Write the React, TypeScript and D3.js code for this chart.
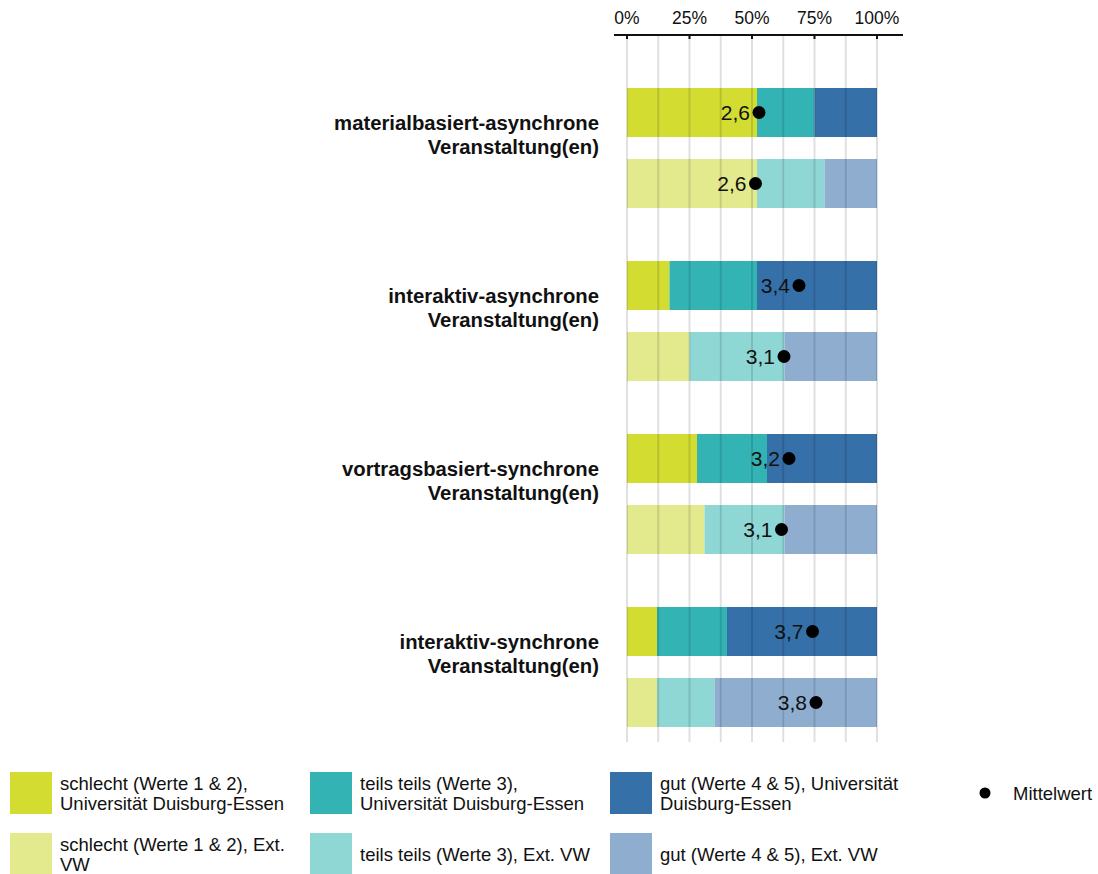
import { useEffect, useRef } from 'react'
import * as d3 from 'd3'

// category labels (two lines each)
const categories = [
  ['materialbasiert-asynchrone', 'Veranstaltung(en)'],
  ['interaktiv-asynchrone', 'Veranstaltung(en)'],
  ['vortragsbasiert-synchrone', 'Veranstaltung(en)'],
  ['interaktiv-synchrone', 'Veranstaltung(en)'],
]

// shares in percent: schlecht / teils teils / gut
const udeSchlecht = [52, 17, 28, 12]
const udeTeils = [23, 35, 28, 28]
const udeGut = [25, 48, 44, 60]

const extSchlecht = [52, 25, 31, 12]
const extTeils = [27, 38, 32, 23]
const extGut = [21, 37, 37, 65]

// means on a 1..5 scale
const udeMean = [2.64, 3.44, 3.24, 3.71]
const extMean = [2.57, 3.14, 3.09, 3.78]

const tickValues = [0, 0.25, 0.5, 0.75, 1]
const gridValues = [0, 0.125, 0.25, 0.375, 0.5, 0.625, 0.75, 0.875, 1]

const udeColors = ['#d2dc31', '#33b3b4', '#3670a8']
const extColors = ['#e3e98d', '#8fd7d4', '#8faecf']

const legendItems = [
  { color: udeColors[0], lines: ['schlecht (Werte 1 & 2),', 'Universität Duisburg-Essen'] },
  { color: udeColors[1], lines: ['teils teils (Werte 3),', 'Universität Duisburg-Essen'] },
  { color: udeColors[2], lines: ['gut (Werte 4 & 5), Universität', 'Duisburg-Essen'] },
  { color: extColors[0], lines: ['schlecht (Werte 1 & 2), Ext.', 'VW'] },
  { color: extColors[1], lines: ['teils teils (Werte 3), Ext. VW'] },
  { color: extColors[2], lines: ['gut (Werte 4 & 5), Ext. VW'] },
]

const FONT = 'Liberation Sans, Arial, sans-serif'

export default function App() {
  const svgRef = useRef<SVGSVGElement>(null)

  useEffect(() => {
    if (!svgRef.current) return
    const svg = d3.select(svgRef.current)
    svg.selectAll('*').remove()

    const x = d3.scaleLinear().domain([0, 1]).range([627, 877])
    const yGroup = d3.scaleBand<number>()
      .domain(d3.range(categories.length))
      .range([88, 88 + categories.length * 173])
    const barH = 49
    const extOffset = 71

    const keys = ['schlecht', 'teils', 'gut']
    const udeRows = categories.map((_, i) => ({ schlecht: udeSchlecht[i], teils: udeTeils[i], gut: udeGut[i] }))
    const extRows = categories.map((_, i) => ({ schlecht: extSchlecht[i], teils: extTeils[i], gut: extGut[i] }))
    const stack = d3.stack<any>().keys(keys).value((d, k) => d[k] / 100)

    const drawStack = (rows: any[], colors: string[], offset: number) => {
      const series = stack(rows)
      series.forEach((s, si) => {
        svg.append('g')
          .selectAll('rect')
          .data(s)
          .join('rect')
          .attr('x', d => x(d[0]))
          .attr('width', d => x(d[1]) - x(d[0]))
          .attr('y', (_, i) => (yGroup(i) as number) + offset)
          .attr('height', barH)
          .attr('fill', colors[si])
      })
    }
    drawStack(udeRows, udeColors, 0)
    drawStack(extRows, extColors, extOffset)

    // gridlines over bars
    svg.append('g')
      .selectAll('line')
      .data(gridValues)
      .join('line')
      .attr('x1', d => x(d))
      .attr('x2', d => x(d))
      .attr('y1', 35)
      .attr('y2', 742)
      .attr('stroke', 'rgba(0,0,0,0.12)')
      .attr('stroke-width', 2)

    // top axis
    svg.append('line')
      .attr('x1', 614).attr('x2', 903)
      .attr('y1', 35).attr('y2', 35)
      .attr('stroke', '#111').attr('stroke-width', 2)
    const ax = svg.append('g')
    ax.selectAll('line')
      .data(tickValues)
      .join('line')
      .attr('x1', d => x(d)).attr('x2', d => x(d))
      .attr('y1', 35).attr('y2', 39)
      .attr('stroke', '#111').attr('stroke-width', 2)
    ax.selectAll('text')
      .data(tickValues)
      .join('text')
      .attr('x', d => x(d))
      .attr('y', 24)
      .attr('text-anchor', 'middle')
      .attr('font-family', FONT)
      .attr('font-size', 17.5)
      .attr('fill', '#111')
      .text(d => d3.format('.0%')(d))

    // mean dots and labels
    const fmt = (v: number) => v.toFixed(1).replace('.', ',')
    const drawMeans = (means: number[], offset: number) => {
      const g = svg.append('g')
      g.selectAll('circle')
        .data(means)
        .join('circle')
        .attr('cx', d => x(d / 5))
        .attr('cy', (_, i) => (yGroup(i) as number) + offset + barH / 2)
        .attr('r', 6.5)
        .attr('fill', '#000')
      g.selectAll('text')
        .data(means)
        .join('text')
        .attr('x', d => x(d / 5) - 9)
        .attr('y', (_, i) => (yGroup(i) as number) + offset + barH / 2)
        .attr('dy', '0.36em')
        .attr('text-anchor', 'end')
        .attr('font-family', FONT)
        .attr('font-size', 21)
        .attr('fill', '#111')
        .text(d => fmt(d))
    }
    drawMeans(udeMean, 0)
    drawMeans(extMean, extOffset)

    // category labels
    categories.forEach((lines, i) => {
      const t = svg.append('text')
        .attr('text-anchor', 'end')
        .attr('font-family', FONT)
        .attr('font-size', 20.3)
        .attr('font-weight', 'bold')
        .attr('fill', '#111')
      lines.forEach((l, li) => {
        t.append('tspan')
          .attr('x', 599)
          .attr('y', (yGroup(i) as number) + 42 + li * 24)
          .text(l)
      })
    })

    // legend
    const legend = svg.append('g')
    legendItems.forEach((item, i) => {
      const col = i % 3
      const row = Math.floor(i / 3)
      const lx = 10 + col * 300
      const ly = 772 + row * 61
      legend.append('rect')
        .attr('x', lx).attr('y', ly)
        .attr('width', 42).attr('height', 42)
        .attr('fill', item.color)
      const t = legend.append('text')
        .attr('font-family', FONT)
        .attr('font-size', 18.5)
        .attr('fill', '#111')
      const baseY = item.lines.length === 1 ? ly + 28 : ly + 18
      item.lines.forEach((l, li) => {
        t.append('tspan')
          .attr('x', lx + 50)
          .attr('y', baseY + li * 20)
          .text(l)
      })
    })
    legend.append('circle')
      .attr('cx', 985).attr('cy', 793).attr('r', 5.5).attr('fill', '#000')
    legend.append('text')
      .attr('x', 1013).attr('y', 800)
      .attr('font-family', FONT)
      .attr('font-size', 18.5)
      .attr('fill', '#111')
      .text('Mittelwert')
  }, [])

  return (
    <div style={{ position: 'absolute', left: 0, top: 0, width: 1098, height: 874, background: '#fff' }}>
      <svg ref={svgRef} width={1098} height={874} style={{ display: 'block' }} />
    </div>
  )
}
